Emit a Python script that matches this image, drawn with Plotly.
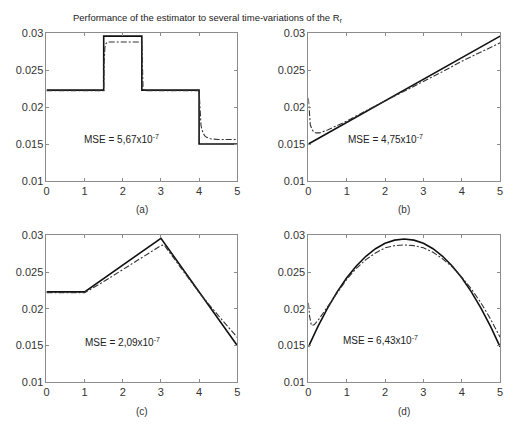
import plotly.graph_objects as go

# ---------------- data ----------------
title_text = "Performance of the estimator to several time-variations of the R<sub>r</sub>"
panel_labels = ["(a)", "(b)", "(c)", "(d)"]
mse_texts = ["MSE = 5,67x10<sup>-7</sup>", "MSE = 4,75x10<sup>-7</sup>",
             "MSE = 2,09x10<sup>-7</sup>", "MSE = 6,43x10<sup>-7</sup>"]
x_ticks = [0, 1, 2, 3, 4, 5]
y_ticks = [0.01, 0.015, 0.02, 0.025, 0.03]
y_ticklabels = ["0.01", "0.015", "0.02", "0.025", "0.03"]

# (a) step changes
a_true_t = [0, 1.5, 1.5, 2.5, 2.5, 4, 4, 5]
a_true_y = [0.0223, 0.0223, 0.0296, 0.0296, 0.0223, 0.0223, 0.0150, 0.0150]
a_est_t = [0, 1.5, 1.51, 1.53, 1.56, 1.6, 2.5, 2.51, 2.53, 2.56, 2.6, 4, 4.02, 4.05, 4.1, 4.15, 4.2, 4.3, 4.5, 5]
a_est_y = [0.0222, 0.0222, 0.0260, 0.0280, 0.0286, 0.0288, 0.0288, 0.0245, 0.0228, 0.0223, 0.0222, 0.0222,
           0.0195, 0.0175, 0.0165, 0.0161, 0.0159, 0.0157, 0.0156, 0.0156]

# (b) ramp
b_true_t = [0, 5]
b_true_y = [0.0150, 0.0296]
b_est_t = [0, 0.02, 0.05, 0.1, 0.15, 0.2, 0.3, 0.5, 1, 1.5, 2, 2.5, 3, 3.5, 4, 4.5, 5]
b_est_y = [0.0212, 0.0190, 0.0176, 0.0169, 0.0166, 0.0165, 0.0165, 0.0169, 0.0181, 0.0195, 0.0208,
           0.0222, 0.0235, 0.0248, 0.0262, 0.0275, 0.0287]

# (c) constant, rise, fall
c_true_t = [0, 1, 3, 5]
c_true_y = [0.0223, 0.0223, 0.0296, 0.0150]
c_est_t = [0, 1, 1.5, 2, 2.5, 3, 3.08, 3.5, 4, 4.5, 5]
c_est_y = [0.0222, 0.0222, 0.0237, 0.0253, 0.0270, 0.0286, 0.0287, 0.0257, 0.0222, 0.0191, 0.0161]

# (d) parabola
d_true_t = [0, 0.25, 0.5, 0.75, 1.0, 1.25, 1.5, 1.75, 2.0, 2.25, 2.5,
            2.75, 3.0, 3.25, 3.5, 3.75, 4.0, 4.25, 4.5, 4.75, 5.0]
d_true_y = [0.0148, 0.01759, 0.02009, 0.02230, 0.02421, 0.02583, 0.02715, 0.02818, 0.02891, 0.02935, 0.0295,
            0.02935, 0.02891, 0.02818, 0.02715, 0.02583, 0.02421, 0.02230, 0.02009, 0.01759, 0.0148]
d_est_t = [0, 0.03, 0.08, 0.15, 0.25, 0.5, 0.75, 1.0, 1.25, 1.5, 1.75, 2.0, 2.25, 2.5,
           2.75, 3.0, 3.25, 3.5, 3.75, 4.0, 4.25, 4.5, 4.75, 5.0]
d_est_y = [0.0208, 0.0190, 0.0177, 0.0178, 0.0184, 0.0203, 0.0222, 0.0240, 0.0255, 0.0267, 0.0276,
           0.0283, 0.0286, 0.0287, 0.0286, 0.0283, 0.0277, 0.0268, 0.0257, 0.0243, 0.0227, 0.0208,
           0.0186, 0.0161]

true_series = [(a_true_t, a_true_y), (b_true_t, b_true_y), (c_true_t, c_true_y), (d_true_t, d_true_y)]
est_series = [(a_est_t, a_est_y), (b_est_t, b_est_y), (c_est_t, c_est_y), (d_est_t, d_est_y)]
mse_pos = [(0.92, 0.0157), (0.97, 0.0157), (0.97, 0.0155), (0.85, 0.0157)]

# ---------------- layout ----------------
W, H = 513, 426
x_domains = [[44 / W, 237 / W], [309 / W, 503 / W]]
y_domains = [[1 - 180 / H, 1 - 28 / H], [1 - 387 / H, 1 - 236 / H]]

fig = go.Figure()
font_family = "Liberation Sans, Arial, sans-serif"

for i in range(4):
    row, col = divmod(i, 2)
    n = "" if i == 0 else str(i + 1)
    xa, ya = "x" + n, "y" + n
    fig.add_trace(go.Scatter(x=true_series[i][0], y=true_series[i][1], mode="lines",
                             line=dict(color="#111111", width=1.6), xaxis=xa, yaxis=ya,
                             showlegend=False, hoverinfo="skip"))
    fig.add_trace(go.Scatter(x=est_series[i][0], y=est_series[i][1], mode="lines",
                             line=dict(color="#333333", width=1.1, dash="6px,2px,2px,2px"),
                             xaxis=xa, yaxis=ya, showlegend=False, hoverinfo="skip"))
    common = dict(showline=True, linecolor="#8c8c8c", linewidth=1, mirror="allticks",
                  ticks="inside", ticklen=3, tickcolor="#8c8c8c", showgrid=False, zeroline=False,
                  tickfont=dict(size=11, color="#333333", family=font_family))
    fig.layout["xaxis" + n] = dict(domain=x_domains[col], anchor=ya, range=[0, 5],
                                   tickvals=x_ticks, **common)
    fig.layout["yaxis" + n] = dict(domain=y_domains[row], anchor=xa, range=[0.01, 0.03],
                                   tickvals=y_ticks, ticktext=y_ticklabels, **common)
    fig.add_annotation(x=mse_pos[i][0], y=mse_pos[i][1], xref=xa, yref=ya, text=mse_texts[i],
                       showarrow=False, xanchor="left", yanchor="middle",
                       font=dict(size=10, color="#222222", family=font_family))
    xc = (x_domains[col][0] + x_domains[col][1]) / 2
    ypos = 1 - (209 if row == 0 else 417) / H
    fig.add_annotation(x=xc, y=ypos, xref="paper", yref="paper", text=panel_labels[i],
                       showarrow=False, xanchor="center", yanchor="middle",
                       font=dict(size=10, color="#333333", family=font_family))

fig.add_annotation(x=207 / W, y=1 - 12 / H, xref="paper", yref="paper", text=title_text,
                   showarrow=False, xanchor="center", yanchor="middle",
                   font=dict(size=9.5, color="#222222", family=font_family))

fig.update_layout(width=W, height=H, margin=dict(l=0, r=0, t=0, b=0),
                  paper_bgcolor="white", plot_bgcolor="white")

fig.write_html("out.html")
